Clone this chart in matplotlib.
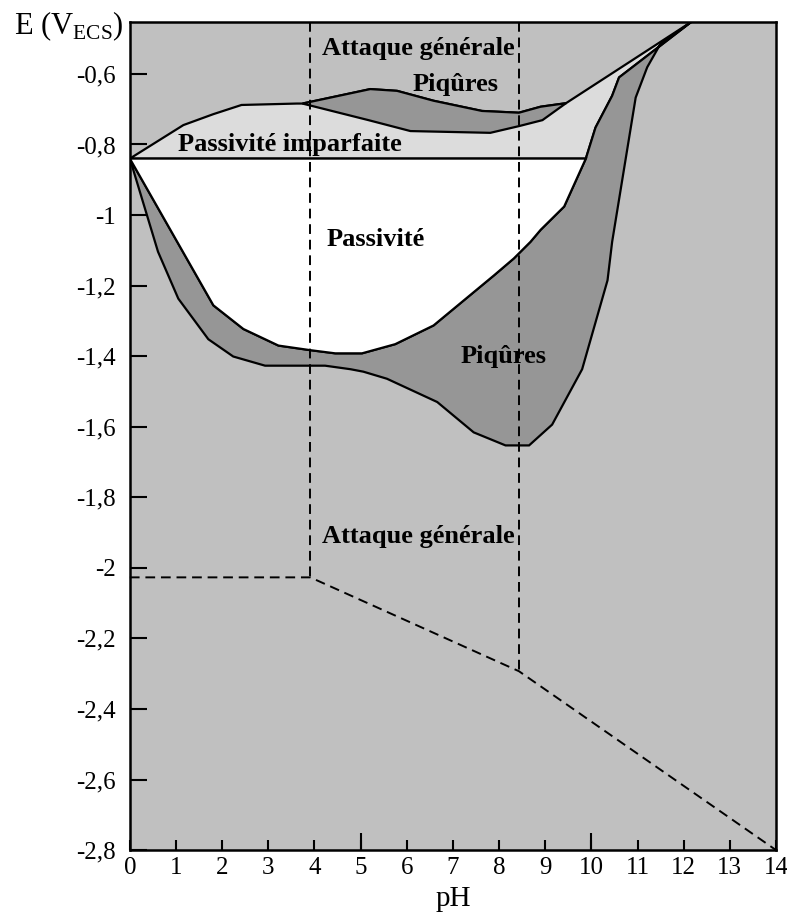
import matplotlib.pyplot as plt
from matplotlib.patches import Polygon

plt.rcParams['font.family'] = ['Liberation Serif', 'DejaVu Serif']
plt.rcParams['mathtext.fontset'] = 'custom'
plt.rcParams['mathtext.rm'] = 'Liberation Serif'

# limites du diagramme
ph_min, ph_max = 0, 14
e_min, e_top = -2.8, -0.453
e_pass = -0.84  # limite passivité / passivité imparfaite

# bord supérieur de la passivité imparfaite (gauche)
imparf_ph = [0, 1.16, 1.81, 2.42, 3.62, 3.74]
imparf_e = [-0.84, -0.745, -0.714, -0.688, -0.684, -0.684]

# bande de piqûres supérieure
pq_haut_ph = [3.74, 5.21, 5.79, 6.58, 7.63, 8.43, 8.90, 9.45]
pq_haut_e = [-0.684, -0.643, -0.648, -0.676, -0.705, -0.710, -0.693, -0.683]
pq_bas_ph = [3.74, 5.17, 6.08, 7.81, 8.43, 8.94, 9.45]
pq_bas_e = [-0.684, -0.731, -0.762, -0.767, -0.748, -0.731, -0.683]

# sommet commun (coin haut droit)
sommet = (12.16, e_top)

# limite inférieure de la passivité (et bord gauche de la bande de piqûres)
pass_ph = [0, 1.81, 2.46, 3.22, 3.91, 4.45, 5.03, 5.75, 6.58, 7.89, 8.32,
           8.68, 8.90, 9.41, 9.88, 10.09, 10.45, 10.60]
pass_e = [-0.84, -1.256, -1.323, -1.370, -1.383, -1.392, -1.392, -1.366,
          -1.313, -1.171, -1.123, -1.076, -1.042, -0.976, -0.84, -0.752,
          -0.662, -0.610]

# bord droit de la bande de piqûres (de haut en bas)
droite_ph = [11.50, 11.21, 10.96, 10.45, 10.35, 9.80, 9.15, 8.65]
droite_e = [-0.514, -0.581, -0.667, -1.076, -1.185, -1.437, -1.594, -1.653]

# bord inférieur de la bande de piqûres (de droite à gauche)
bas_ph = [8.14, 7.45, 6.66, 5.57, 5.06, 4.78, 4.23, 2.93, 2.24, 1.70, 1.05, 0.61, 0]
bas_e = [-1.653, -1.616, -1.530, -1.464, -1.444, -1.437, -1.427, -1.427,
         -1.401, -1.352, -1.237, -1.104, -0.84]

# limites en pointillés
lim_v1, lim_v2 = 3.91, 8.43
tirets_ph = [0, 3.91, 8.43, 14]
tirets_e = [-2.027, -2.027, -2.293, -2.8]

gris_fond = '#c0c0c0'
gris_fonce = '#969696'
gris_clair = '#dcdcdc'

fig = plt.figure(figsize=(7.87, 9.19), dpi=100)
ax = fig.add_axes([0.165, 0.075, 0.821, 0.901])
ax.set_facecolor(gris_fond)
ax.set_xlim(ph_min, ph_max)
ax.set_ylim(e_min, e_top)

i_coude = pass_ph.index(9.88)

# passivité imparfaite
pts = list(zip(imparf_ph, imparf_e)) + list(zip(pq_haut_ph[1:], pq_haut_e[1:]))
pts += [sommet] + list(zip(pass_ph[:i_coude - 1:-1], pass_e[:i_coude - 1:-1]))
ax.add_patch(Polygon(pts, closed=True, fc=gris_clair, ec='black', lw=1.6, zorder=2))

# piqûres (haut)
pts = list(zip(pq_haut_ph, pq_haut_e)) + list(zip(pq_bas_ph[::-1], pq_bas_e[::-1]))
ax.add_patch(Polygon(pts, closed=True, fc=gris_fonce, ec='black', lw=1.6, zorder=3))

# piqûres (bas)
pts = list(zip(pass_ph, pass_e)) + [sommet] + list(zip(droite_ph, droite_e))
pts += list(zip(bas_ph, bas_e))
ax.add_patch(Polygon(pts, closed=True, fc=gris_fonce, ec='black', lw=1.6, zorder=2))

# passivité
pts = list(zip(pass_ph[:i_coude + 1], pass_e[:i_coude + 1]))
ax.add_patch(Polygon(pts, closed=True, fc='white', ec='black', lw=1.6, zorder=3))

# pointillés
tirets = (0, (5, 3))
ax.plot([lim_v1, lim_v1], [e_top, tirets_e[1]], color='black', lw=1.4, ls=tirets, zorder=4)
ax.plot([lim_v2, lim_v2], [e_top, tirets_e[2]], color='black', lw=1.4, ls=tirets, zorder=4)
ax.plot(tirets_ph, tirets_e, color='black', lw=1.4, ls=tirets, zorder=4, clip_on=False)

txt = dict(fontsize=19, fontweight='bold', ha='center', va='center', zorder=5)
ax.text(6.25, -0.528, 'Attaque générale', **txt)
ax.text(7.05, -0.631, 'Piqûres', **txt)
ax.text(3.47, -0.800, 'Passivité imparfaite', **txt)
ax.text(5.32, -1.070, 'Passivité', **txt)
ax.text(8.10, -1.400, 'Piqûres', **txt)
ax.text(6.25, -1.910, 'Attaque générale', **txt)

# axes
yt = [-0.6 - 0.2 * i for i in range(12)]
ylab = ['-0,6', '-0,8', '-1', '-1,2', '-1,4', '-1,6', '-1,8', '-2', '-2,2', '-2,4', '-2,6', '-2,8']
ax.set_yticks(yt)
ax.set_yticklabels(ylab, fontsize=18)
ax.set_xticks(range(15))
ax.set_xticklabels([str(i) for i in range(15)], fontsize=18)
ax.xaxis.remove_overlapping_locs = False
ax.set_xticks([5, 10], minor=True)
ax.tick_params(axis='y', direction='in', length=12, width=1.5, pad=10)
ax.tick_params(axis='x', which='major', direction='in', length=7, width=1.5, pad=5)
ax.tick_params(axis='x', which='minor', direction='in', length=12, width=1.5)
for s in ax.spines.values():
    s.set_linewidth(1.8)

ax.set_xlabel('pH', fontsize=21, labelpad=5)
fig.text(0.018, 0.972, r'E (V$_{\mathrm{ECS}}$)', fontsize=22, ha='left', va='center')

fig.savefig('out.png', dpi=100)
